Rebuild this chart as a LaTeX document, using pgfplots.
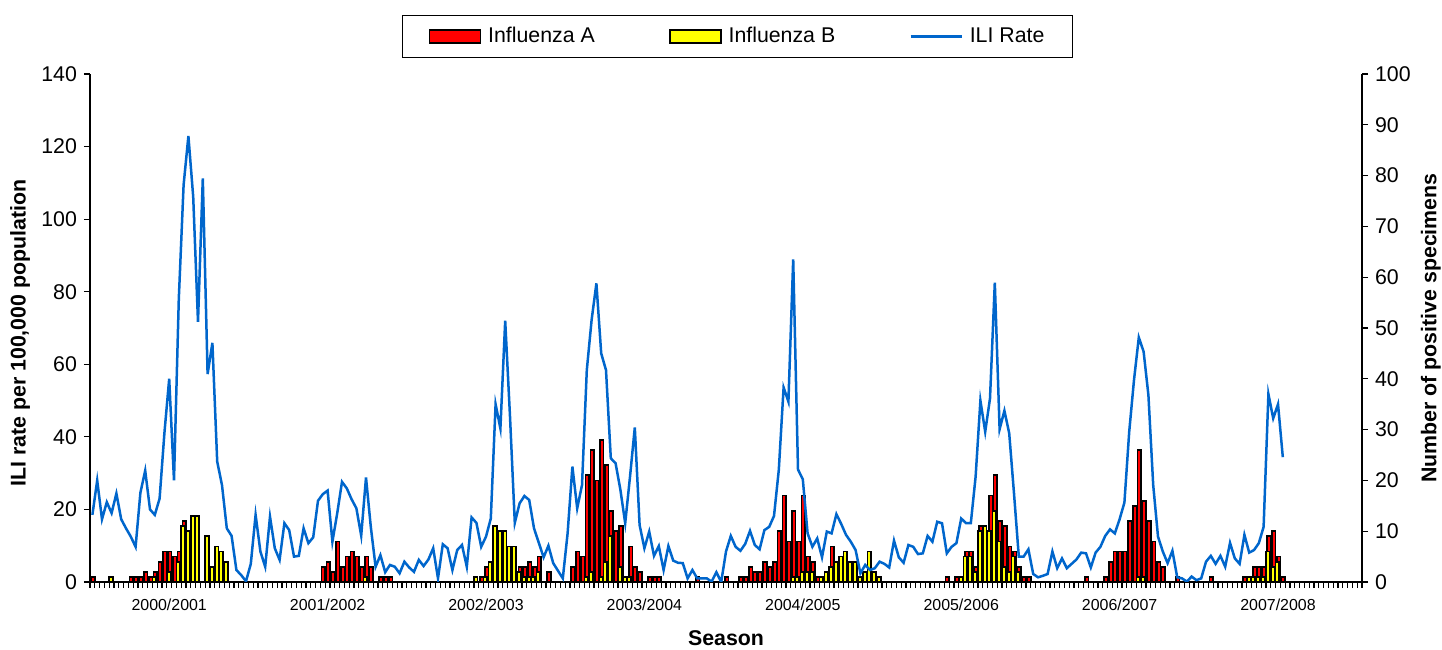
\documentclass[border=0pt]{standalone}
\usepackage{fontspec}
\setmainfont{Liberation Sans}
\usepackage{pgfplots}
\pgfplotsset{compat=1.18}
\definecolor{iliblue}{RGB}{0,102,204}
\definecolor{fluA}{RGB}{255,0,0}
\definecolor{fluB}{RGB}{255,255,0}
\newcommand{\chartfont}{\fontsize{10.7}{12}\selectfont}

\pgfplotsset{
  common/.style={
    width=636bp, height=254bp, scale only axis,
    xmin=-0.5, xmax=264.5, ymin=0,
    /pgf/number format/assume math mode=true,
    tick label style={font=\chartfont},
    axis line style={black, line width=0.6bp},
    tick style={black, line width=0.6bp},
    tick align=outside,
    major tick length=3bp, minor tick length=3bp,
  },
  boxlegend/.style={legend image code/.code={\draw[##1] (0bp,-3.25bp) rectangle (25.5bp,3.25bp);}},
  linelegend/.style={legend image code/.code={\draw[##1] (0bp,0bp) -- (25.5bp,0bp);}},
}

\begin{document}
\begin{tikzpicture}
\useasboundingbox (-45bp,-34bp) rectangle (676bp,291bp);

% bars on the secondary (right) axis
\begin{axis}[common,
  ymax=100, ytick={0,10,...,100},
  axis y line*=right, axis x line*=bottom,
  ylabel={Number of positive specimens},
  every axis y label/.style={at={(axis description cs:1.0542,0.5)}, rotate=90, anchor=center, font=\chartfont\bfseries},
  xlabel={Season},
  every axis x label/.style={at={(axis description cs:0.5,-0.111)}, anchor=center, font=\chartfont\bfseries},
  xtick={16,49,82,115,148,181,214,247},
  xticklabels={2000/2001,2001/2002,2002/2003,2003/2004,2004/2005,2005/2006,2006/2007,2007/2008},
  xticklabel style={font=\fontsize{8}{9}\selectfont, yshift=-2bp},
  major x tick style={draw=none},
  minor xtick={-0.5,0.5,...,264.5},
  ybar, bar width=0.75,
]
\addplot[fill=fluA, draw=black, line width=0.85bp, bar shift=0.125] coordinates {
(0,1)(8,1)(9,1)(10,1)(11,2)(12,1)(13,2)(14,4)(15,6)(16,6)(17,5)(18,6)(19,12)
(48,3)(49,4)(50,2)(51,8)(52,3)(53,5)(54,6)(55,5)(56,3)(57,5)(58,3)(60,1)(61,1)(62,1)
(81,1)(82,3)(83,2)(89,3)(90,3)(91,4)(92,3)(93,5)(95,2)
(100,3)(101,6)(102,5)(103,21)(104,26)(105,20)(106,28)(107,23)(108,14)(109,10)(110,11)(111,1)(112,7)(113,3)(114,2)(116,1)(117,1)(118,1)
(126,1)(132,1)(135,1)(136,1)(137,3)(138,2)(139,2)(140,4)(141,3)(142,4)(143,10)(144,17)(145,8)(146,14)(147,8)(148,17)(149,5)(150,4)(151,1)(154,7)
(178,1)(180,1)(182,6)(183,6)(184,3)(185,11)(186,5)(187,17)(188,21)(189,12)(190,11)(191,7)(192,6)(193,3)(194,1)(195,1)
(207,1)(211,1)(212,4)(213,6)(214,6)(215,6)(216,12)(217,15)(218,26)(219,16)(220,12)(221,8)(222,4)(223,3)(226,1)
(233,1)(240,1)(241,1)(242,3)(243,3)(244,3)(245,9)(246,10)(247,5)(248,1)
};
\addplot[fill=fluB, draw=black, line width=0.85bp, bar shift=-0.125] coordinates {
(4,1)(13,1)(16,2)(18,4)(19,11)(20,10)(21,13)(22,13)(24,9)(25,3)(26,7)(27,6)(28,4)
(57,1)
(80,1)(82,1)(83,4)(84,11)(85,10)(86,10)(87,7)(88,7)(89,2)(90,1)(91,1)(92,1)(93,2)
(103,1)(104,2)(106,1)(107,4)(108,9)(110,3)(111,1)(112,1)
(146,1)(147,1)(148,2)(149,2)(150,2)(152,1)(153,2)(154,3)(155,4)(156,5)(157,6)(158,4)(159,4)(160,1)(161,2)(162,6)(163,2)(164,1)
(181,1)(182,5)(183,5)(184,2)(185,10)(186,11)(187,10)(188,14)(189,8)(190,3)(191,2)(192,5)(193,2)
(218,1)(219,1)
(241,1)(242,1)(243,1)(244,1)(245,6)(246,3)(247,4)
};
\end{axis}

% ILI rate on the primary (left) axis
\begin{axis}[common,
  ymax=140, ytick={0,20,...,140},
  axis y line*=left, axis x line=none, xtick=\empty,
  ylabel={ILI rate per 100,000 population},
  every axis y label/.style={at={(axis description cs:-0.055,0.49)}, rotate=90, anchor=center, font=\chartfont\bfseries},
  legend columns=3,
  legend style={at={(axis description cs:0.509,1.074)}, anchor=center,
    draw=black, line width=0.5bp, font=\chartfont,
    inner xsep=13bp, inner ysep=5bp, nodes={inner sep=1bp},
    /tikz/every odd column/.append style={column sep=2.5bp},
    /tikz/every even column/.append style={column sep=36bp}},
  legend cell align=left,
]
\addlegendimage{fill=fluA, draw=black, line width=0.85bp, boxlegend}
\addlegendentry{Influenza A}
\addlegendimage{fill=fluB, draw=black, line width=0.85bp, boxlegend}
\addlegendentry{Influenza B}
\addplot[iliblue, line width=1.25bp, mark=none, linelegend] coordinates {
(0,18.5)(1,28)(2,17.3)(3,22)(4,19)(5,24.4)(6,17.3)(7,14.8)(8,12.5)(9,9.7)
(10,24.6)(11,30.7)(12,20)(13,18.5)(14,23)(15,41)(16,56)(17,28)(18,78)(19,109.4)
(20,122.9)(21,106.2)(22,71.7)(23,111.2)(24,57.3)(25,65.9)(26,33.2)(27,26.7)(28,14.8)(29,12.7)
(30,3.3)(31,1.9)(32,0.2)(33,5)(34,18.5)(35,8.4)(36,4.2)(37,18)(38,9.3)(39,6.1)
(40,16.2)(41,14.3)(42,7)(43,7.2)(44,14.8)(45,10.7)(46,12.3)(47,22.4)(48,24.2)(49,25.2)
(50,11.1)(51,18.9)(52,27.6)(53,25.8)(54,22.8)(55,20.3)(56,12.8)(57,28.8)(58,15.2)(59,4.2)
(60,7.4)(61,2.7)(62,4.7)(63,4.2)(64,2.4)(65,5.6)(66,4)(67,2.8)(68,6.1)(69,4.4)
(70,6.2)(71,9.3)(72,1)(73,10.4)(74,9.3)(75,3.3)(76,8.8)(77,10.2)(78,4.2)(79,17.8)
(80,16.3)(81,9.7)(82,12.5)(83,17.5)(84,49)(85,42.3)(86,72)(87,45.6)(88,16.3)(89,21.7)
(90,23.7)(91,22.6)(92,14.8)(93,10.8)(94,6.8)(95,10)(96,5.2)(97,3.1)(98,1)(99,13.4)
(100,31.8)(101,20.3)(102,26.7)(103,58.4)(104,72.2)(105,82.3)(106,63)(107,58.4)(108,34.1)(109,32.7)
(110,25.4)(111,16.2)(112,29)(113,42.6)(114,15.7)(115,9.3)(116,13.9)(117,7.2)(118,9.9)(119,3.3)
(120,9.9)(121,5.9)(122,5.3)(123,5.2)(124,1)(125,3.3)(126,1)(127,1)(128,1)(129,0.1)
(130,2.7)(131,0)(132,8.4)(133,12.7)(134,9.7)(135,8.6)(136,10.5)(137,14.1)(138,10.2)(139,9)
(140,14.3)(141,15.2)(142,18.2)(143,30.9)(144,53.6)(145,49.7)(146,88.9)(147,31)(148,28.3)(149,13.4)
(150,9.7)(151,12)(152,6.8)(153,13.9)(154,13.4)(155,18.7)(156,16)(157,13)(158,11.1)(159,8.8)
(160,2.4)(161,4.7)(162,3.3)(163,3.8)(164,5.6)(165,5)(166,4)(167,11.4)(168,6.8)(169,5.3)
(170,10.2)(171,9.7)(172,7.7)(173,7.9)(174,12.7)(175,11.1)(176,16.6)(177,16.2)(178,7.9)(179,9.7)
(180,10.7)(181,17.5)(182,16.2)(183,16.2)(184,29)(185,50)(186,41.4)(187,50.6)(188,82.5)(189,42.1)
(190,47.2)(191,41)(192,24.4)(193,7)(194,7)(195,9)(196,2.2)(197,1.3)(198,1.7)(199,2.2)
(200,8.4)(201,3.8)(202,6.5)(203,3.8)(204,5)(205,6.2)(206,8.1)(207,7.9)(208,4)(209,8.1)
(210,9.7)(211,12.7)(212,14.5)(213,13.4)(214,17.3)(215,21.9)(216,41.4)(217,55.7)(218,67.4)(219,63.5)
(220,51.5)(221,26.7)(222,12.5)(223,8.4)(224,5.2)(225,8.6)(226,1.3)(227,1)(228,0.1)(229,1.5)
(230,0.5)(231,1)(232,5.6)(233,7.2)(234,5)(235,7.2)(236,4.2)(237,10.8)(238,6.5)(239,5)
(240,13)(241,8.1)(242,8.8)(243,10.7)(244,15.2)(245,51.8)(246,45.1)(247,49)(248,34.4)
};
\addlegendentry{ILI Rate}
\end{axis}
\end{tikzpicture}
\end{document}
